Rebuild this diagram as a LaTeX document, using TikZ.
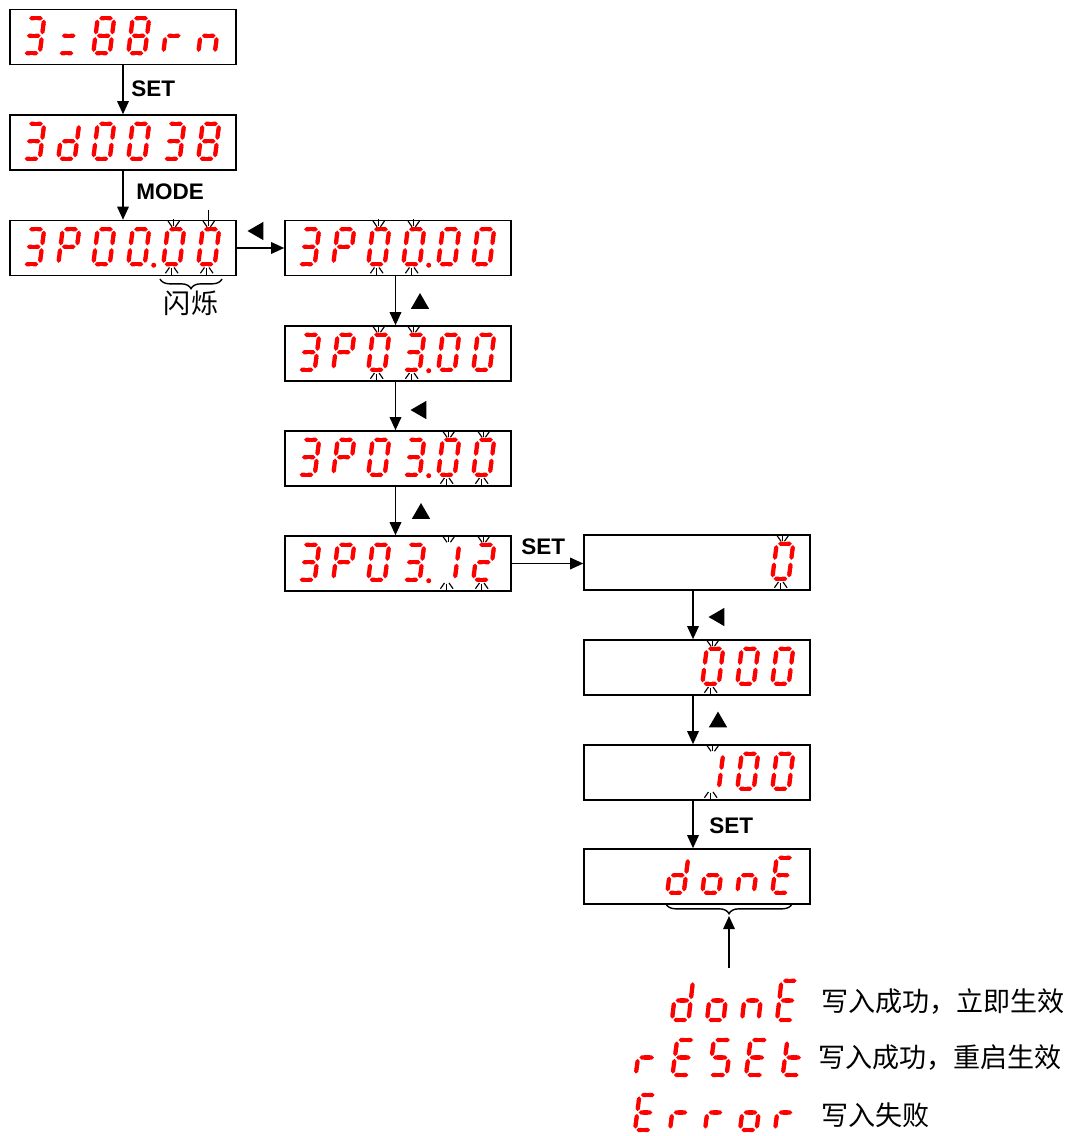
\documentclass[tikz,border=0pt]{standalone}
\usepackage{fontspec}
\setsansfont{Liberation Sans}
\newfontfamily\cjk{Noto Sans CJK SC}
\usepackage{tikz}
\usetikzlibrary{shapes.geometric, arrows.meta, decorations.pathreplacing}
\tikzset{
  panel/.style     = {rectangle, draw, line width=0.9pt, inner sep=0pt,
                      minimum width=4.52cm, minimum height=1.1cm},
  seg/.style       = {red, line width=2.4pt, {Triangle Cap}-{Triangle Cap},
                      shorten <=0.8pt, shorten >=0.8pt},
  blinkray/.style  = {line width=0.65pt},
  arrow/.style     = {-{Triangle[length=7.5pt, width=6.6pt]}, line width=1pt},
  keylabel/.style  = {font=\sffamily\bfseries\fontsize{12.8}{14}\selectfont,
                      inner sep=0pt, anchor=west},
  keytri/.style    = {regular polygon, regular polygon sides=3, fill,
                      inner sep=0pt, minimum size=0.42cm},
  note/.style      = {font=\cjk\fontsize{15.4}{18}\selectfont, inner sep=0pt, anchor=west},
  brace/.style     = {decorate, decoration={brace, amplitude=5.5pt}, line width=0.8pt}
}
% segments lit for each character
\newcommand\segdef[2]{\expandafter\def\csname sd@#1\endcsname{#2}}
\segdef{0}{a,b,c,d,e,f}
\segdef{1}{b,c}
\segdef{2}{a,b,g,e,d}
\segdef{3}{a,b,g,c,d}
\segdef{8}{a,b,c,d,e,f,g}
\segdef{u}{g,d}
\segdef{P}{a,b,f,e,g}
\segdef{d}{b,c,d,e,g}
\segdef{r}{e,g}
\segdef{n}{e,g,c}
\segdef{o}{c,d,e,g}
\segdef{E}{a,d,e,f,g}
\segdef{S}{a,f,g,c,d}
\segdef{t}{d,e,f,g}
% one digit, lower left corner at (#1,#2)
\newcommand\segchar[3]{%
  \begin{scope}[shift={(#1,#2)}]
    \coordinate (sa0) at (4.5,-35);    \coordinate (sa1) at (21,-35);
    \coordinate (sb0) at (21,-35);     \coordinate (sb1) at (18.75,-17.5);
    \coordinate (sc0) at (18.75,-17.5);\coordinate (sc1) at (16.5,0);
    \coordinate (sd0) at (16.5,0);     \coordinate (sd1) at (0,0);
    \coordinate (se0) at (0,0);        \coordinate (se1) at (2.25,-17.5);
    \coordinate (sf0) at (2.25,-17.5); \coordinate (sf1) at (4.5,-35);
    \coordinate (sg0) at (2.25,-17.5); \coordinate (sg1) at (18.75,-17.5);
    \expandafter\let\expandafter\seglist\csname sd@#3\endcsname
    \foreach \s in \seglist {\draw[seg] (s\s0) -- (s\s1);}
  \end{scope}}
% row of digits from the panel corner #1, first position #2
\newcommand\segrow[3]{%
  \begin{scope}[shift={#1}]
    \foreach \ch [count=\i from #2] in {#3} {\segchar{14+35*\i}{44.5}{\ch}}
  \end{scope}}
\newcommand\segdot[2]{%
  \fill[red] ([shift={(39.5+35*#2,45.5)}]#1) circle (2.5);}
\newcommand\segblink[2]{%
  \begin{scope}[shift={#1}, shift={(14+35*#2,44.5)}]
    \foreach \a in {235,270,305} {\draw[blinkray] (10.5,-35) ++(\a:3) -- ++(\a:7);}
    \foreach \a in {55,90,125}   {\draw[blinkray] (8.5,0) ++(\a:4) -- ++(\a:7);}
  \end{scope}}

\begin{document}
\begin{tikzpicture}[x=0.02cm, y=-0.02cm]
  \useasboundingbox (0,0) rectangle (1073,1136);
  % display panels
  \node[panel] (menu)   at (123,37)    {};
  \node[panel] (dispid) at (123,142.5) {};
  \node[panel] (par0)   at (123,248)   {};
  \node[panel] (par1)   at (398,248)   {};
  \node[panel] (par2)   at (398,353.5) {};
  \node[panel] (par3)   at (398,458.5) {};
  \node[panel] (par4)   at (398,563.5) {};
  \node[panel] (val0)   at (697,562.5) {};
  \node[panel] (val1)   at (697,667.5) {};
  \node[panel] (val2)   at (697,772.5) {};
  \node[panel] (done)   at (697,876.5) {};

  \segrow{(menu.north west)}{0}{3,u,8,8,r,n}
  \segrow{(dispid.north west)}{0}{3,d,0,0,3,8}
  \segrow{(par0.north west)}{0}{3,P,0,0,0,0}
  \segrow{(par1.north west)}{0}{3,P,0,0,0,0}
  \segrow{(par2.north west)}{0}{3,P,0,3,0,0}
  \segrow{(par3.north west)}{0}{3,P,0,3,0,0}
  \segrow{(par4.north west)}{0}{3,P,0,3,1,2}
  \segrow{(val0.north west)}{5}{0}
  \segrow{(val1.north west)}{3}{0,0,0}
  \segrow{(val2.north west)}{3}{1,0,0}
  \segrow{(done.north west)}{2}{d,o,n,E}
  \foreach \p in {par0,par1,par2,par3,par4} {\segdot{\p.north west}{3}}

  % blinking digits
  \segblink{(par0.north west)}{4} \segblink{(par0.north west)}{5}
  \draw[blinkray] ([shift={(199.5,-10)}]par0.north west) -- ++(0,13);
  \segblink{(par1.north west)}{2} \segblink{(par1.north west)}{3}
  \segblink{(par2.north west)}{2} \segblink{(par2.north west)}{3}
  \segblink{(par3.north west)}{4} \segblink{(par3.north west)}{5}
  \segblink{(par4.north west)}{4} \segblink{(par4.north west)}{5}
  \segblink{(val0.north west)}{5}
  \segblink{(val1.north west)}{3}
  \segblink{(val2.north west)}{3}

  % key presses
  \draw[arrow] (menu) -- (dispid);
  \draw[arrow] (dispid) -- (par0);
  \draw[arrow] (par0) -- (par1);
  \draw[arrow] ([xshift=-0.05cm]par1.south) -- ([xshift=-0.05cm]par2.north);
  \draw[arrow] ([xshift=-0.05cm]par2.south) -- ([xshift=-0.05cm]par3.north);
  \draw[arrow] ([xshift=-0.05cm]par3.south) -- ([xshift=-0.05cm]par4.north);
  \draw[arrow] (par4.east) -- (par4.east -| val0.west);
  \draw[arrow] ([xshift=-0.08cm]val0.south) -- ([xshift=-0.08cm]val1.north);
  \draw[arrow] ([xshift=-0.08cm]val1.south) -- ([xshift=-0.08cm]val2.north);
  \draw[arrow] ([xshift=-0.08cm]val2.south) -- ([xshift=-0.08cm]done.north);

  \node[keylabel] (kset1) at (131,89)    {SET};
  \node[keylabel] (kmode) at (136,192)   {MODE};
  \node[keylabel] (kset2) at (521,547)   {SET};
  \node[keylabel] (kset3) at (709,825.5) {SET};
  \node[keytri, rotate=90] (kleft1) at (258,231)   {};
  \node[keytri]            (kup1)   at (420,303.5) {};
  \node[keytri, rotate=90] (kleft2) at (421,410)   {};
  \node[keytri]            (kup2)   at (421,513.5) {};
  \node[keytri, rotate=90] (kleft3) at (719,617)   {};
  \node[keytri]            (kup3)   at (718,722)   {};

  % braces
  \draw[brace] (222,279) -- (160,279);
  \node[note, anchor=center] (blinktxt) at (191,303) {闪烁};
  \draw[brace] (792,904) -- (666,904);
  \coordinate (bracetip) at (729,916);
  \coordinate (resultsrc) at (729,968);
  \draw[arrow] (resultsrc) -- (bracetip);

  % results
  \begin{scope}[shift={(623,970.2)}, yscale=1.12]
    \segrow{(0,0)}{1}{d,o,n,E}
  \end{scope}
  \begin{scope}[shift={(621,1030.5)}, xscale=1.05]
    \segrow{(0,0)}{0}{r,E,S,E,t}
  \end{scope}
  \segrow{(621,1085.5)}{0}{E,r,r,o,r}
  \node[note] (msgdone)  at (821,1001) {写入成功，立即生效};
  \node[note] (msgreset) at (818,1058) {写入成功，重启生效};
  \node[note] (msgerror) at (821,1115) {写入失败};
\end{tikzpicture}
\end{document}
